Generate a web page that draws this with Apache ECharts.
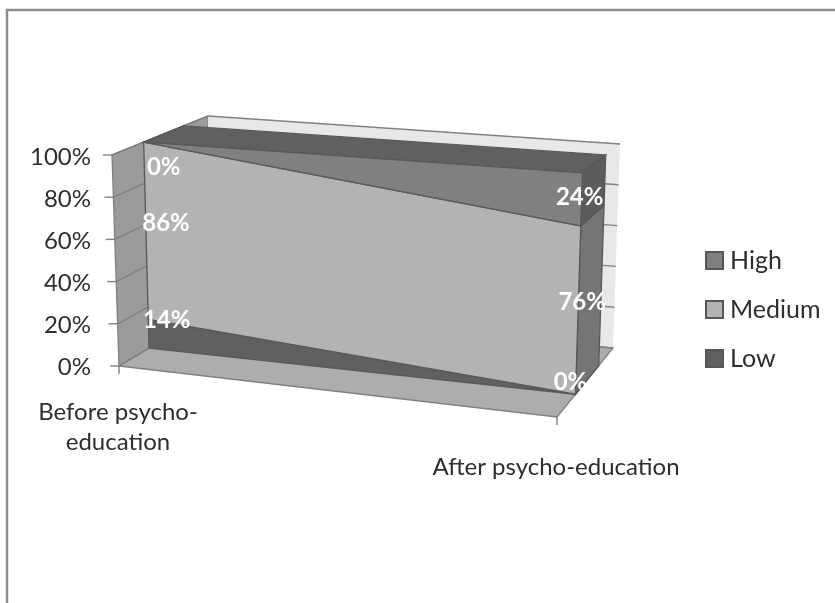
<!DOCTYPE html>
<html>
<head>
<meta charset="utf-8">
<style>html,body{margin:0;padding:0;background:#fff}#chart{width:835px;height:603px}</style>
<script src="https://cdn.jsdelivr.net/npm/echarts@6/dist/echarts.min.js"></script>
</head>
<body>
<div id="chart"></div>
<script>
// Share of participants per level, before and after the programme.
const categories = ['Before psycho-\neducation', 'After psycho-education'];
const low = [14, 0];
const medium = [86, 76];
const high = [0, 24];
const valueTicks = [0, 20, 40, 60, 80, 100];

const FONT = 'Lato';
const TEXT = '#2e2e2e';
const EDGE = '#808080';
const SLAB_EDGE = '#585858';

// Oblique box the stacked slab is drawn in. Each corner is keyed by
// [along category, along value, along depth]; points inside are blended from them.
const BOX = {
  '000': [119, 366], '100': [557, 417], '010': [112, 155], '110': [564, 187],
  '001': [210, 312], '101': [613, 348], '011': [208, 116], '111': [620, 144]
};
const SLAB_FRONT = 0.33;
const SLAB_BACK = 0.745;

function project(u, v, w) {
  let x = 0, y = 0;
  for (const a of [0, 1]) for (const b of [0, 1]) for (const c of [0, 1]) {
    const k = (a ? u : 1 - u) * (b ? v : 1 - v) * (c ? w : 1 - w);
    const p = BOX['' + a + b + c];
    x += k * p[0];
    y += k * p[1];
  }
  return [x, y];
}

// Converts a (category index, percent) pair to unit box axes through the grid's own scales.
function toUnit(params, api, cat, val) {
  const p = api.coord([cat, val]);
  const g = params.coordSys;
  return [(p[0] - g.x) / g.width, (g.y + g.height - p[1]) / g.height];
}
const face = (pts, fill, stroke, lineWidth) => ({
  type: 'polygon',
  shape: { points: pts },
  style: { fill: fill, stroke: stroke, lineWidth: lineWidth === undefined ? 1.3 : lineWidth }
});
const seg = (a, b, color, width) => ({
  type: 'line',
  shape: { x1: a[0], y1: a[1], x2: b[0], y2: b[1] },
  style: { stroke: color, lineWidth: width || 1.4 }
});

// Walls, floor, gridlines and tick marks.
function renderFrame(params, api) {
  const kids = [
    face([project(0,0,0), project(0,1,0), project(0,1,1), project(0,0,1)], '#9b9b9b', EDGE),
    face([project(0,0,1), project(0,1,1), project(1,1,1), project(1,0,1)], '#e8e8e8', null, 0),
    face([project(0,0,0), project(1,0,0), project(1,0,1), project(0,0,1)], '#adadad', EDGE)
  ];
  valueTicks.forEach(t => {
    const v = toUnit(params, api, 0, t)[1];
    const a = project(0, v, 0);
    kids.push(seg(project(0, v, 1), project(1, v, 1), EDGE));
    kids.push(seg(a, project(0, v, 1), EDGE));
    kids.push(seg([a[0] - 9, a[1]], a, EDGE));
  });
  categories.forEach((c, i) => {
    const a = project(toUnit(params, api, i, 0)[0], 0, 0);
    kids.push(seg(a, [a[0], a[1] + 8], EDGE));
  });
  return { type: 'group', children: kids };
}

// One layer of the stacked slab: its front face, right end and, for the top layer, the lid.
function layerRenderer(lower, upper, color, endColor, lidColor) {
  return function (params, api) {
    if (params.dataIndex !== 0) return null;
    const [u0, a0] = toUnit(params, api, 0, lower[0]);
    const [, a1] = toUnit(params, api, 0, upper[0]);
    const [u1, b0] = toUnit(params, api, 1, lower[1]);
    const [, b1] = toUnit(params, api, 1, upper[1]);
    const f = SLAB_FRONT, k = SLAB_BACK;
    const kids = [
      face([project(u1,b0,f), project(u1,b1,f), project(u1,b1,k), project(u1,b0,k)], endColor, SLAB_EDGE),
      face([project(u0,a0,f), project(u0,a1,f), project(u1,b1,f), project(u1,b0,f)], color, SLAB_EDGE)
    ];
    if (lidColor) {
      kids.unshift(face([project(u0,a1,f), project(u0,a1,k), project(u1,b1,k), project(u1,b1,f)], lidColor, SLAB_EDGE));
    }
    return { type: 'group', children: kids };
  };
}

const stackLow = low.map(() => 0);
const stackMedium = low.slice();
const stackHigh = low.map((v, i) => v + medium[i]);
const stackTop = stackHigh.map((v, i) => v + high[i]);

// Pixel nudges for the value labels, by layer then category.
const labelNudge = {
  low: [[18, -13], [-5, -12]],
  medium: [[20, -7], [4, -8]],
  high: [[20, 25], [-2, -2]]
};

function renderLabels(params, api) {
  const rows = [
    [low, stackLow, stackMedium, labelNudge.low],
    [medium, stackMedium, stackHigh, labelNudge.medium],
    [high, stackHigh, stackTop, labelNudge.high]
  ];
  const kids = [];
  rows.forEach(([vals, lo, hi, nudge]) => {
    vals.forEach((val, i) => {
      const [u, v] = toUnit(params, api, i, (lo[i] + hi[i]) / 2);
      const p = project(u, v, SLAB_FRONT);
      kids.push({
        type: 'text',
        x: p[0] + nudge[i][0],
        y: p[1] + nudge[i][1],
        style: {
          text: val + '%', fill: '#ffffff', align: 'center', verticalAlign: 'middle',
          font: 'bold 24px ' + FONT
        }
      });
    });
  });
  return { type: 'group', children: kids };
}

const layerData = categories.map((c, i) => [i, 0]);
const customBase = { type: 'custom', coordinateSystem: 'cartesian2d', silent: true, clip: false };

const option = {
  animation: false,
  backgroundColor: '#ffffff',
  graphic: [{
    type: 'rect', silent: true,
    shape: { x: 7, y: 10, width: 900, height: 700 },
    style: { fill: 'none', stroke: '#8c8c8c', lineWidth: 2.5 }
  }],
  grid: { left: 118, top: 157, width: 438, height: 210 },
  xAxis: {
    type: 'category', data: categories, boundaryGap: false,
    axisLine: { show: false }, axisTick: { show: false }, splitLine: { show: false },
    axisLabel: {
      interval: 0, margin: 30, color: TEXT, fontFamily: FONT, fontSize: 24, lineHeight: 30,
      formatter: (v, i) => i === 1 ? '{later|' + v + '}' : v,
      rich: { later: { color: TEXT, fontFamily: FONT, fontSize: 24, lineHeight: 30, padding: [111, 0, 0, 0] } }
    }
  },
  yAxis: {
    type: 'value', min: 0, max: 100, interval: 20,
    axisLine: { show: false }, axisTick: { show: false }, splitLine: { show: false },
    axisLabel: { margin: 27, color: TEXT, fontFamily: FONT, fontSize: 24, formatter: '{value}%' }
  },
  legend: {
    data: ['High', 'Medium', 'Low'],
    orient: 'vertical', left: 700, top: 243, itemWidth: 17, itemHeight: 17, itemGap: 24,
    icon: 'rect', selectedMode: false,
    textStyle: { color: TEXT, fontFamily: FONT, fontSize: 25, padding: [0, 0, 0, 2] }
  },
  series: [
    Object.assign({}, customBase, { name: 'frame', data: [[0, 0]], renderItem: renderFrame }),
    Object.assign({}, customBase, {
      name: 'Low', data: layerData, itemStyle: { color: '#606060', borderColor: '#555555', borderWidth: 1.5 },
      renderItem: layerRenderer(stackLow, stackMedium, '#606060', '#555555')
    }),
    Object.assign({}, customBase, {
      name: 'Medium', data: layerData, itemStyle: { color: '#b3b3b3', borderColor: '#555555', borderWidth: 1.5 },
      renderItem: layerRenderer(stackMedium, stackHigh, '#b3b3b3', '#757575')
    }),
    Object.assign({}, customBase, {
      name: 'High', data: layerData, itemStyle: { color: '#808080', borderColor: '#555555', borderWidth: 1.5 },
      renderItem: layerRenderer(stackHigh, stackTop, '#808080', '#5c5c5c', '#606060')
    }),
    Object.assign({}, customBase, { name: 'labels', data: [[0, 0]], renderItem: renderLabels })
  ]
};

echarts.init(document.getElementById('chart'), null, { renderer: 'canvas' }).setOption(option);
</script>
</body>
</html>
